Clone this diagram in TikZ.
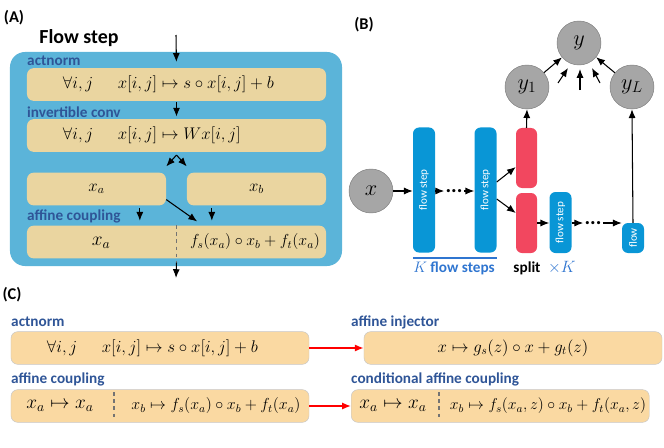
\RequirePackage{fix-cm}
\documentclass[tikz,border=0pt]{standalone}
\usepackage{amsmath,amssymb}
\usepackage{fontspec}
\setmainfont{Carlito}
\usepackage{tikz}
\usetikzlibrary{arrows.meta}

\definecolor{panelblue}{RGB}{91,180,217}
\definecolor{tanA}{RGB}{234,213,160}
\definecolor{tanC}{RGB}{250,217,162}
\definecolor{labblue}{RGB}{47,85,151}
\definecolor{barblue}{RGB}{9,150,214}
\definecolor{splitred}{RGB}{242,71,95}
\definecolor{vargray}{RGB}{166,166,166}
\definecolor{kblue}{RGB}{47,117,208}

\begin{document}
\begin{tikzpicture}[x=0.03cm,y=-0.03cm,>={Latex[length=7.5pt,width=6pt]}]
        \tikzset{panel/.style={fill=panelblue, rounded corners=0.45cm, inner sep=0pt},
                 tanbox/.style={fill=tanA, rounded corners=0.2cm, minimum height=0.98cm, inner sep=0pt, font=\fontsize{14.4}{16}\selectfont},
                 formbox/.style={tanbox, text width=6.81cm, align=left, inner xsep=1.08cm},
                 cbox/.style={fill=tanC, draw=black!22, rounded corners=0.2cm, minimum width=8.94cm, minimum height=0.98cm, inner sep=0pt, font=\fontsize{14.4}{16}\selectfont},
                 mth/.style={inner sep=0pt, font=\fontsize{13.6}{16}\selectfont},
                 bigmth/.style={inner sep=0pt, font=\fontsize{16.5}{20}\selectfont},
                 lab/.style={anchor=west, inner sep=0pt, text=labblue, font=\bfseries\fontsize{13}{15}\selectfont},
                 panlab/.style={inner sep=0pt, font=\bfseries\fontsize{14}{16}\selectfont},
                 bar/.style={fill=barblue, rounded corners=0.18cm, minimum width=0.66cm, inner sep=0pt, text=white, font=\fontsize{9.5}{11}\selectfont},
                 splitbar/.style={fill=splitred, rounded corners=0.18cm, minimum width=0.63cm, minimum height=1.8cm, inner sep=0pt},
                 var/.style={circle, fill=vargray, draw=vargray!75!black, minimum size=1.32cm, inner sep=0pt, font=\fontsize{19}{21}\selectfont},
                 dots/.style={inner sep=0pt, font=\bfseries\fontsize{18}{20}\selectfont},
                 arr/.style={->, line width=0.9pt},
                 redarr/.style={->, draw=red, line width=1.3pt},
                 divide/.style={dashed, draw=black!55, line width=1.3pt}}
        \useasboundingbox (0,0) rectangle (664,448);

	%---NODES---
        % (A) flow step
        \node[panel, minimum width=9.96cm, minimum height=6.42cm] (fstep) at (176,159) {};
        \node[formbox] (act) at (176.5,84.5) {$\forall i,j \hspace{21pt} x[i,j]\mapsto s\circ x[i,j]+b$};
        \node[formbox] (inv) at (176.5,135.5) {$\forall i,j \hspace{21pt} x[i,j]\mapsto Wx[i,j]$};
        \node[tanbox, minimum width=4.17cm] (xa) at (96.5,189) {$x_a$};
        \node[tanbox, minimum width=4.17cm] (xb) at (256.5,189) {$x_b$};
        \node[tanbox, minimum width=8.97cm] (cpl) at (176.5,242) {};
        \node[bigmth] (cpla) at (101,243) {$x_a$};
        \node[mth] (cplb) at (255,242) {$f_s(x_a)\circ x_b+f_t(x_a)$};
        \coordinate (in) at (176,35);
        \coordinate (out) at (176,278);

        % (B) multi-scale flow
        \node[var] (x) at (371,191) {$x$};
        \node[bar, minimum height=3.75cm] (fs1) at (424,190) {\rotatebox{90}{flow step}};
        \node[dots] (d1) at (454,191) {...};
        \node[bar, minimum height=3.75cm] (fs2) at (485.5,190) {\rotatebox{90}{flow step}};
        \node[splitbar] (red1) at (526.5,158) {};
        \node[splitbar] (red2) at (526.5,223) {};
        \node[bar, minimum height=1.83cm] (fs3) at (560.5,222.5) {\rotatebox{90}{flow step}};
        \node[dots] (d2) at (593,223) {...};
        \node[bar, minimum height=0.9cm] (fl) at (633,238) {\rotatebox{90}{flow}};
        \node[var] (y1) at (527,87) {$y_1$};
        \node[var] (yL) at (632,87) {$y_L$};
        \node[var] (y) at (579,43) {$y$};
        \coordinate (m1) at (558,83);
        \coordinate (m2) at (580,90);
        \coordinate (m3) at (600,83);
        \coordinate (n1) at (568,68);
        \coordinate (n2) at (580,69);
        \coordinate (n3) at (592,68);

        % (C) conditional layers
        \node[cbox, formbox, fill=tanC, text width=6.78cm] (c1) at (160,348) {$\forall i,j \hspace{21pt} x[i,j]\mapsto s\circ x[i,j]+b$};
        \node[cbox] (c2) at (160,406) {};
        \node[bigmth] (c2a) at (60,406) {$x_a\mapsto x_a$};
        \node[mth] (c2b) at (216,406) {$x_b\mapsto f_s(x_a)\circ x_b+f_t(x_a)$};
        \node[cbox] (c3) at (513,348) {$x\mapsto g_s(z)\circ x+g_t(z)$};
        \node[cbox, anchor=west] (c4) at (351,406) {};
        \node[bigmth] (c4a) at (393,406) {$x_a\mapsto x_a$};
        \node[mth, font=\fontsize{13.4}{15}\selectfont] (c4b) at (548,406) {$x_b\mapsto f_s(x_a,z)\circ x_b+f_t(x_a,z)$};

	%---EDGES---
        \draw[arr, shorten >=0.18cm] (in) -- (act.north);
        \draw[arr, shorten <=1pt, shorten >=2pt] (act.south) -- (inv.north);
        \draw[arr] ([yshift=-0.09cm]inv.south) -- ([yshift=0.18cm]xa.north east);
        \draw[arr] ([yshift=-0.09cm]inv.south) -- ([yshift=0.18cm]xb.north west);
        \draw[arr, shorten <=2pt, shorten >=4pt] ([xshift=1.3cm]xa.south) -- ([xshift=1.3cm]xa.south |- cpl.north);
        \draw[arr] ([yshift=0.18cm]xa.south east) -- ([xshift=0.62cm,yshift=0.12cm]cpl.north);
        \draw[arr, shorten <=2pt, shorten >=4pt] ([xshift=-1.34cm]xb.south) -- ([xshift=-1.34cm]xb.south |- cpl.north);
        \draw[divide] (cpl.north) -- ([yshift=-0.12cm]cpl.south);
        \draw[arr] ([yshift=-0.12cm]cpl.south) -- (out);

        \draw[arr] (x) -- (x -| fs1.west);
        \draw[arr] (fs1.east |- d1) -- ([xshift=-1pt]d1.west);
        \draw[arr] ([xshift=1pt]d1.east) -- (d1 -| fs2.west);
        \draw[arr] ([yshift=0.24cm]fs2.east) -- ([yshift=-0.27cm]red1.west);
        \draw[arr] ([yshift=-0.27cm]fs2.east) -- ([yshift=0.3cm]red2.west);
        \draw[arr] (red1.north) -- (y1.south);
        \draw[arr] (red2.east |- d2) -- (d2 -| fs3.west);
        \draw[arr] (fs3.east |- d2) -- ([xshift=-1pt]d2.west);
        \draw[arr] ([xshift=1pt]d2.east) -- (d2 -| fl.west);
        \draw[arr] (fl.north) -- (yL.south);
        \draw[arr] (y1) -- (y);
        \draw[arr] (yL) -- (y);
        \draw[arr] (m1) -- (n1);
        \draw[arr] (m2) -- (n2);
        \draw[arr] (m3) -- (n3);
        \draw[draw=kblue, line width=1.6pt] ([yshift=-0.15cm]fs1.south west) -- ([yshift=-0.15cm]fs2.south east);

        \draw[redarr] (c1) -- (c1 -| c3.west);
        \draw[redarr] (c2) -- (c4);
        \draw[divide] ([xshift=-1.38cm,yshift=-0.09cm]c2.north) -- ([xshift=-1.38cm,yshift=0.09cm]c2.south);
        \draw[divide] ([xshift=-1.83cm,yshift=-0.09cm]c4.north) -- ([xshift=-1.83cm,yshift=0.09cm]c4.south);

	%---LABELS---
        \node[panlab] (pa) at (14,18) {(A)};
        \node[panlab] (pb) at (364,25) {(B)};
        \node[panlab] (pc) at (12,295) {(C)};
        \node[inner sep=0pt, font=\bfseries\fontsize{17}{20}\selectfont] (ftitle) at (79,38) {Flow step};
        \node[lab] (lact) at (27,61) {actnorm};
        \node[lab] (linv) at (27,112) {invertible conv};
        \node[lab] (lcpl) at (27,216) {affine coupling};
        \node[inner sep=0pt, text=kblue, font=\fontsize{13}{15}\selectfont] (lk) at (454,268) {$K$ \textbf{flow steps}};
        \node[inner sep=0pt, font=\bfseries\fontsize{13}{15}\selectfont] (lsplit) at (527,268) {split};
        \node[inner sep=0pt, text=kblue, font=\fontsize{14}{16}\selectfont] (ltimes) at (562,268) {$\times K$};
        \node[lab] (lc1) at (11,322) {actnorm};
        \node[lab] (lc2) at (11,379) {affine coupling};
        \node[lab] (lc3) at (351,322) {affine injector};
        \node[lab] (lc4) at (351,379) {conditional affine coupling};

    \end{tikzpicture}
\end{document}
